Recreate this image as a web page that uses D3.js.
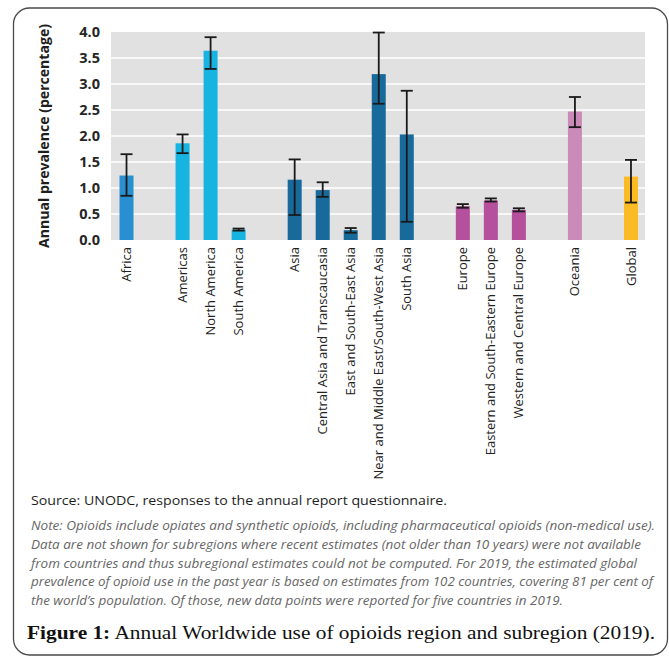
<!DOCTYPE html>
<html>
<head>
<meta charset="utf-8">
<script src="https://cdn.jsdelivr.net/npm/d3@7"></script>
<style>
  html, body { margin: 0; padding: 0; background: #fff; }
  svg { display: block; }
</style>
</head>
<body>
<svg id="chart" width="669" height="660"></svg>
<script>
// Opioid use, annual prevalence by region and subregion, 2019
const categories = [
  "Africa",
  "Americas", "North America", "South America",
  "Asia", "Central Asia and Transcaucasia", "East and South-East Asia",
  "Near and Middle East/South-West Asia", "South Asia",
  "Europe", "Eastern and South-Eastern Europe", "Western and Central Europe",
  "Oceania",
  "Global"
];
const groups = [
  "Africa",
  "Americas", "Americas", "Americas",
  "Asia", "Asia", "Asia", "Asia", "Asia",
  "Europe", "Europe", "Europe",
  "Oceania",
  "Global"
];
const prevalence = [1.24, 1.86, 3.64, 0.20, 1.16, 0.96, 0.19, 3.19, 2.03, 0.65, 0.76, 0.58, 2.47, 1.22];
const lowerBound = [0.85, 1.67, 3.29, 0.18, 0.48, 0.83, 0.14, 2.62, 0.35, 0.62, 0.74, 0.55, 2.17, 0.72];
const upperBound = [1.65, 2.03, 3.90, 0.22, 1.55, 1.11, 0.23, 3.99, 2.87, 0.69, 0.80, 0.61, 2.75, 1.54];
const groupNames = ["Africa", "Americas", "Asia", "Europe", "Oceania", "Global"];
const groupColors = ["#2a8fd0", "#17b4e1", "#186a9b", "#b5509c", "#ca8bb9", "#fbbb24"];
const yTicks = [0, 0.5, 1.0, 1.5, 2.0, 2.5, 3.0, 3.5, 4.0];

const sourceText = "Source: UNODC, responses to the annual report questionnaire.";
const noteLines = [
  "Note: Opioids include opiates and synthetic opioids, including pharmaceutical opioids (non-medical use).",
  "Data are not shown for subregions where recent estimates (not older than 10 years) were not available",
  "from countries and thus subregional estimates could not be computed. For 2019, the estimated global",
  "prevalence of opioid use in the past year is based on estimates from 102 countries, covering 81 per cent of",
  "the world\u2019s population. Of those, new data points were reported for five countries in 2019."
];
const captionBold = "Figure 1:";
const captionText = " Annual Worldwide use of opioids region and subregion (2019).";

const rows = categories.map((c, i) => ({
  name: c, group: groups[i], value: prevalence[i], lo: lowerBound[i], hi: upperBound[i]
}));

// Band slots: one per bar, plus an empty slot between consecutive groups
const slots = [];
rows.forEach((r, i) => {
  if (i > 0 && groups[i - 1] !== r.group) slots.push("__gap" + i);
  slots.push(r.name);
});

const svg = d3.select("#chart");
const sans = "'Open Sans', 'Noto Sans', sans-serif";

const plot = { left: 111, right: 645, top: 32, bottom: 240 };

const x = d3.scaleBand().domain(slots).range([plot.left + 1.5, plot.right]).paddingInner(0.5).paddingOuter(0.25);
const y = d3.scaleLinear().domain([0, 4]).range([plot.bottom, plot.top]);
const color = d3.scaleOrdinal().domain(groupNames).range(groupColors);

// Outer frame
svg.append("rect")
  .attr("x", 13.5).attr("y", 8)
  .attr("width", 654).attr("height", 647)
  .attr("rx", 16).attr("ry", 16)
  .attr("fill", "none").attr("stroke", "#4a4a4a").attr("stroke-width", 1.3);

// Plot background
svg.append("rect")
  .attr("x", plot.left).attr("y", y(4))
  .attr("width", plot.right - plot.left).attr("height", y(0) - y(4))
  .attr("fill", "#e1e1e1");

// Gridlines
svg.append("g")
  .selectAll("line")
  .data(yTicks.filter(t => t > 0 && t < 4))
  .join("line")
  .attr("x1", plot.left).attr("x2", plot.right)
  .attr("y1", d => y(d)).attr("y2", d => y(d))
  .attr("stroke", "#ffffff").attr("stroke-width", 1.5);

// Y axis labels
const yAxis = d3.axisLeft(y).tickValues(yTicks).tickFormat(d3.format(".1f")).tickSize(0).tickPadding(11);
const yg = svg.append("g").attr("transform", `translate(${plot.left},0)`).call(yAxis);
yg.select(".domain").remove();
yg.selectAll("text")
  .attr("font-family", sans).attr("font-size", 14.5).attr("font-weight", 700).attr("fill", "#262626");

// Y axis title
svg.append("text")
  .attr("transform", `translate(49,${(y(4) + y(0)) / 2 + 0}) rotate(-90)`)
  .attr("text-anchor", "middle")
  .attr("font-family", sans).attr("font-size", 14).attr("font-weight", 700).attr("fill", "#1e1e1e")
  .attr("textLength", 224).attr("lengthAdjust", "spacingAndGlyphs")
  .text("Annual prevalence (percentage)");

// Bars
svg.append("g")
  .selectAll("rect")
  .data(rows)
  .join("rect")
  .attr("x", d => x(d.name))
  .attr("width", x.bandwidth())
  .attr("y", d => y(d.value))
  .attr("height", d => y(0) - y(d.value))
  .attr("fill", d => color(d.group));

// Error bars
const capW = 12;
const eb = svg.append("g").attr("stroke", "#1a1a1a").attr("stroke-width", 1.8);
rows.forEach(d => {
  const cx = x(d.name) + x.bandwidth() / 2;
  eb.append("line").attr("x1", cx).attr("x2", cx).attr("y1", y(d.hi)).attr("y2", y(d.lo));
  eb.append("line").attr("x1", cx - capW / 2).attr("x2", cx + capW / 2).attr("y1", y(d.hi)).attr("y2", y(d.hi));
  eb.append("line").attr("x1", cx - capW / 2).attr("x2", cx + capW / 2).attr("y1", y(d.lo)).attr("y2", y(d.lo));
});

// Category labels (rotated)
svg.append("g")
  .selectAll("text")
  .data(rows)
  .join("text")
  .attr("transform", d => `translate(${x(d.name) + x.bandwidth() / 2},${plot.bottom + 7}) rotate(-90)`)
  .attr("text-anchor", "end")
  .attr("dy", "0.35em")
  .attr("font-family", sans).attr("font-size", 13).attr("fill", "#222")
  .text(d => d.name);

// Source line
svg.append("text")
  .attr("x", 31).attr("y", 505)
  .attr("font-family", sans).attr("font-size", 13.5).attr("fill", "#1e1e1e")
  .attr("textLength", 416).attr("lengthAdjust", "spacingAndGlyphs")
  .text(sourceText);

// Note paragraph
const noteWidths = [624, 610, 606, 622, 532];
svg.append("g")
  .selectAll("text")
  .data(noteLines)
  .join("text")
  .attr("x", 31)
  .attr("y", (d, i) => 530 + i * 18.8)
  .attr("font-family", sans).attr("font-size", 12).attr("font-style", "italic").attr("fill", "#666")
  .attr("textLength", (d, i) => noteWidths[i]).attr("lengthAdjust", "spacingAndGlyphs")
  .text(d => d);

// Caption
const cap = svg.append("text")
  .attr("x", 27).attr("y", 639)
  .attr("font-family", "'Liberation Serif', 'DejaVu Serif', serif").attr("font-size", 19).attr("fill", "#111")
  .attr("textLength", 628).attr("lengthAdjust", "spacingAndGlyphs");
cap.append("tspan").attr("font-weight", 700).text(captionBold);
cap.append("tspan").text(captionText);
</script>
</body>
</html>
